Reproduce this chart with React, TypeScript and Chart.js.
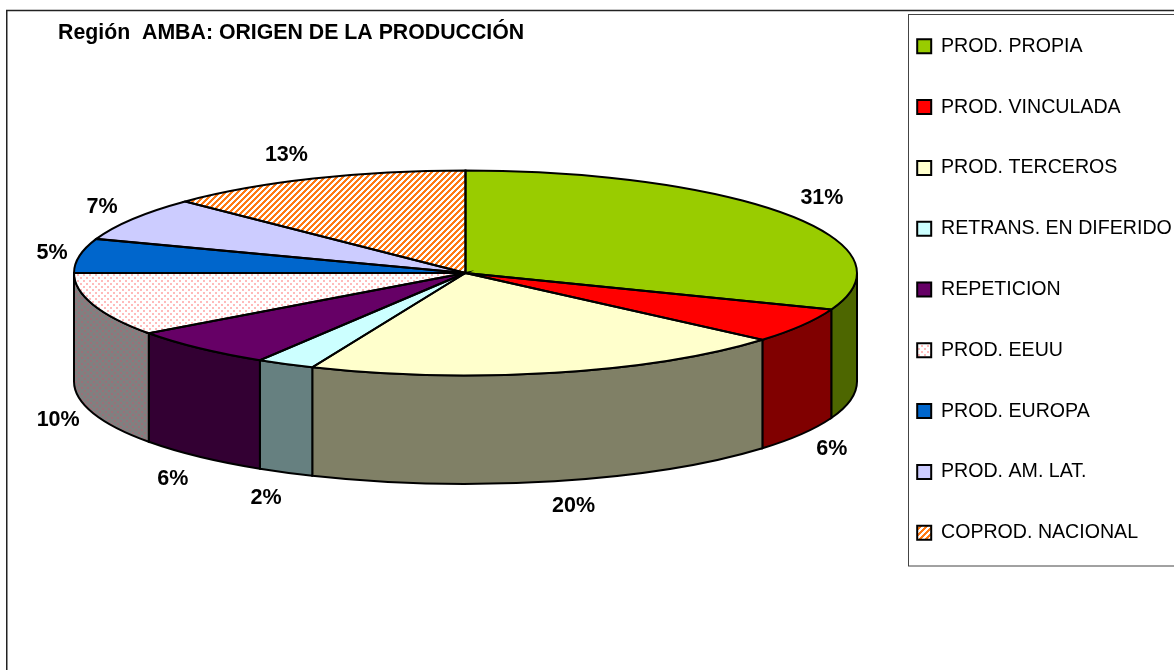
import React, { useEffect, useRef } from "react";
import { Chart, registerables } from "chart.js";

Chart.register(...registerables);

const categories = [
  "PROD. PROPIA",
  "PROD. VINCULADA",
  "PROD. TERCEROS",
  "RETRANS. EN DIFERIDO",
  "REPETICION",
  "PROD. EEUU",
  "PROD. EUROPA",
  "PROD. AM. LAT.",
  "COPROD. NACIONAL",
];
const shares = [30.8, 5.5, 20.1, 2.4, 6.2, 10, 5.4, 6.9, 12.7];
const titleText = "Región  AMBA: ORIGEN DE LA PRODUCCIÓN";

const topColors = ["#99CC00", "#FF0000", "#FFFFCC", "#CCFFFF", "#660066", "dots", "#0066CC", "#CCCCFF", "hatch"];
const wallColors = ["#4D6600", "#800000", "#808066", "#668080", "#330033", "wallDots", "#003366", "#666680", "#803300"];
// label displacement from the rim of the pie at the slice's mid angle
const labelNudges: [number, number][] = [
  [34, -17], [30, 15.5], [19, 25], [-19.5, 26], [-26.5, 22], [-35, 7], [-27.5, -3], [-31, -12], [-27, -23],
];

const FONT = "'Liberation Sans', Arial, sans-serif";
const CX = 465.5;
const CY = 273;
const RX = 391.5;
const TILT = 102.5 / 391.5;
const DEPTH = 108.5;

function tile(w: number, h: number, bg: string, fg: string, pixels: [number, number][]) {
  const c = document.createElement("canvas");
  c.width = w;
  c.height = h;
  const g = c.getContext("2d")!;
  g.fillStyle = bg;
  g.fillRect(0, 0, w, h);
  g.fillStyle = fg;
  pixels.forEach(([x, y]) => g.fillRect(x, y, 1, 1));
  return c;
}

function makePatterns(ctx: CanvasRenderingContext2D) {
  const dotPixels: [number, number][] = [
    [0, 0], [1, 0], [0, 1], [1, 1], [3, 3], [4, 3], [3, 4], [4, 4],
  ];
  const dots = tile(6, 6, "#FFFFFF", "#FFBBBB", dotPixels);
  const wall = tile(6, 6, "#808080", "#9A7078", dotPixels);
  const hatchPixels: [number, number][] = [];
  for (let y = 0; y < 6; y++) {
    for (let k = 0; k < 3; k++) hatchPixels.push([(5 - y + k + 6) % 6, y]);
  }
  const hatch = tile(6, 6, "#FFFFFF", "#FF7A14", hatchPixels);
  const flat = {
    dots: ctx.createPattern(dots, "repeat")!,
    wallDots: ctx.createPattern(wall, "repeat")!,
    hatch: ctx.createPattern(hatch, "repeat")!,
  };
  const squashedDots = ctx.createPattern(dots, "repeat")!;
  squashedDots.setTransform(new DOMMatrix().scale(1, 1 / TILT));
  const squashedHatch = ctx.createPattern(hatch, "repeat")!;
  squashedHatch.setTransform(new DOMMatrix().scale(1, 1 / TILT));
  return { flat, squashed: { dots: squashedDots, hatch: squashedHatch } };
}

export default function App() {
  const ref = useRef<HTMLCanvasElement>(null);

  useEffect(() => {
    const canvas = ref.current!;
    const ctx = canvas.getContext("2d")!;
    const { flat, squashed } = makePatterns(ctx);
    const resolve = (c: string, table: any) => table[c] ?? c;

    const pie3d = {
      id: "pie3d",
      beforeDatasetDraw(chart: any) {
        const c = chart.ctx;
        const arcs = chart.getDatasetMeta(0).data;
        // side walls: only the front half of the rim is visible
        arcs.forEach((el: any, i: number) => {
          const { startAngle, endAngle, outerRadius } = el.getProps(["startAngle", "endAngle", "outerRadius"], true);
          const a0 = Math.max(startAngle, 0);
          const a1 = Math.min(endAngle, Math.PI);
          if (a1 <= a0) return;
          const ry = outerRadius * TILT;
          c.save();
          c.beginPath();
          c.ellipse(CX, CY, outerRadius, ry, 0, a0, a1);
          c.ellipse(CX, CY + DEPTH, outerRadius, ry, 0, a1, a0, true);
          c.closePath();
          c.fillStyle = resolve(wallColors[i], flat);
          c.fill();
          c.lineWidth = 2;
          c.strokeStyle = "#000";
          c.stroke();
          c.restore();
        });
        // top face: the library's arcs, squashed into an ellipse
        const first = arcs[0];
        c.save();
        c.imageSmoothingEnabled = false;
        c.translate(CX, CY);
        c.scale(1, TILT);
        c.translate(-first.x, -first.y);
      },
      afterDatasetDraw(chart: any) {
        const c = chart.ctx;
        c.restore();
        chart.getDatasetMeta(0).data.forEach((el: any) => {
          const { startAngle, endAngle, outerRadius } = el.getProps(["startAngle", "endAngle", "outerRadius"], true);
          c.beginPath();
          c.moveTo(CX, CY);
          c.ellipse(CX, CY, outerRadius, outerRadius * TILT, 0, startAngle, endAngle);
          c.closePath();
          c.lineWidth = 2;
          c.strokeStyle = "#000";
          c.stroke();
        });
      },
      afterDraw(chart: any) {
        const c = chart.ctx;
        c.save();
        // outer frame, open at the bottom and the right
        c.strokeStyle = "#222";
        c.lineWidth = 1.5;
        c.beginPath();
        c.moveTo(6.75, 670);
        c.lineTo(6.75, 10.5);
        c.lineTo(1174, 10.5);
        c.stroke();
        // legend frame
        c.strokeStyle = "#444";
        c.lineWidth = 1;
        c.strokeRect(908.5, 14.5, 300, 551.5);
        // percentage labels
        c.fillStyle = "#000";
        c.font = `bold 21.5px ${FONT}`;
        c.textAlign = "center";
        c.textBaseline = "middle";
        chart.getDatasetMeta(0).data.forEach((el: any, i: number) => {
          const { startAngle, endAngle, outerRadius } = el.getProps(["startAngle", "endAngle", "outerRadius"], true);
          const mid = (startAngle + endAngle) / 2;
          const s = Math.sin(mid);
          const x = CX + outerRadius * Math.cos(mid) + labelNudges[i][0];
          const y = CY + outerRadius * TILT * s + (s > 0 ? DEPTH : 0) + labelNudges[i][1];
          c.fillText(`${Math.round(shares[i])}%`, x, y);
        });
        c.restore();
      },
    };

    const chart = new Chart(canvas, {
      type: "pie",
      data: {
        labels: categories,
        datasets: [
          {
            data: shares,
            backgroundColor: topColors.map((c) => resolve(c, squashed)),
            borderWidth: 0,
            radius: RX,
            clip: false,
          } as any,
        ],
      },
      options: {
        responsive: false,
        animation: false,
        layout: { padding: { left: 58, top: -12, bottom: 79, right: 0 } },
        plugins: {
          tooltip: { enabled: false },
          title: {
            display: true,
            text: titleText,
            align: "start",
            fullSize: false,
            color: "#000",
            font: { family: FONT, size: 21.3, weight: "bold" },
            padding: { top: 32, bottom: 0 },
          },
          legend: {
            position: "right",
            align: "center",
            maxWidth: 298,
            labels: {
              boxWidth: 14,
              boxHeight: 14,
              padding: 41.2,
              color: "#000",
              font: { family: FONT, size: 19.6 },
              generateLabels(ch: any) {
                const base = (Chart as any).overrides.pie.plugins.legend.labels.generateLabels(ch);
                return base.map((item: any, i: number) => ({
                  ...item,
                  fillStyle: resolve(topColors[i], flat),
                  strokeStyle: "#000",
                  lineWidth: 2,
                }));
              },
            },
          },
        },
      } as any,
      plugins: [pie3d],
    });
    return () => chart.destroy();
  }, []);

  return (
    <div style={{ position: "absolute", left: 0, top: 0, width: 1174, height: 670, background: "#fff" }}>
      <canvas ref={ref} width={1174} height={670} style={{ display: "block" }} />
    </div>
  );
}
